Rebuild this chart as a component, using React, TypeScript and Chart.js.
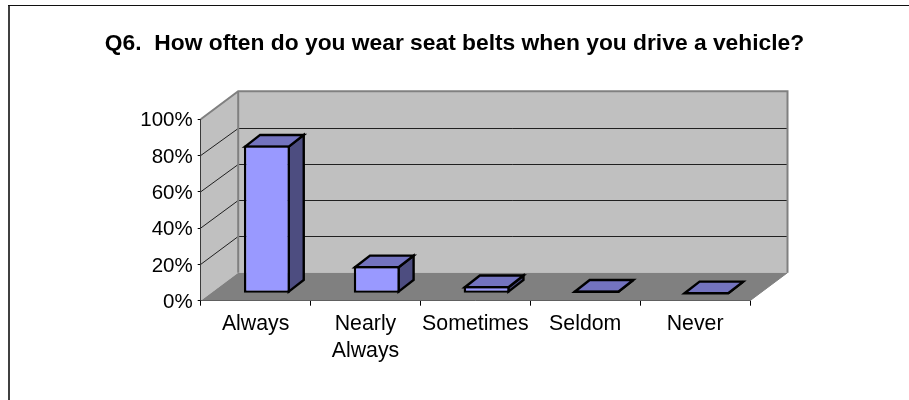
import { useEffect, useRef } from "react";
import { Chart, registerables } from "chart.js";

Chart.register(...registerables);

const titleText = "Q6.  How often do you wear seat belts when you drive a vehicle?";
const categories: (string | string[])[] = ["Always", ["Nearly", "Always"], "Sometimes", "Seldom", "Never"];
const percentages = [81.5, 15, 4, 1.5, 0];
const yTicks = [0, 20, 40, 60, 80, 100];

const FONT = "'Liberation Sans', Arial, sans-serif";
const WALL = "#c0c0c0";
const FLOOR = "#808080";
const DX = 37.5;
const DY = -28;
const BAR_SHIFT_X = 11.3;
const BAR_SHIFT_Y = -7.4;
const BAR_DX = 15;
const BAR_DY = -11.7;
const BAR_LINE = 2.4;

function poly(ctx: CanvasRenderingContext2D, pts: number[][], fill?: string, stroke?: string, lw = 1) {
  ctx.beginPath();
  pts.forEach((p, i) => (i ? ctx.lineTo(p[0], p[1]) : ctx.moveTo(p[0], p[1])));
  ctx.closePath();
  if (fill) {
    ctx.fillStyle = fill;
    ctx.fill();
  }
  if (stroke) {
    ctx.strokeStyle = stroke;
    ctx.lineWidth = lw;
    ctx.lineJoin = "miter";
    ctx.stroke();
  }
}

const frame3d = {
  id: "frame3d",
  beforeDraw(chart: any) {
    const { ctx, width, height } = chart;
    ctx.save();
    ctx.fillStyle = "#ffffff";
    ctx.fillRect(0, 0, width, height);
    ctx.fillStyle = "#404040";
    ctx.fillRect(8, 5, 2, height - 5);
    ctx.fillStyle = "#101010";
    ctx.fillRect(8, 5, width - 8, 1);
    ctx.restore();
    const items = chart.scales.y.getLabelItems(chart.chartArea);
    if (!items.nudged) {
      items.nudged = true;
      items.forEach((item: any) => {
        item.options.translation = [item.options.translation[0], item.options.translation[1] + 1.5];
      });
    }
  },
  beforeDatasetsDraw(chart: any) {
    const { ctx, scales } = chart;
    const x = scales.x;
    const y = scales.y;
    const l = x.left;
    const r = x.right;
    const b = y.getPixelForValue(0);
    const t = y.getPixelForValue(100);
    ctx.save();
    poly(ctx, [[l, b], [l + DX, b + DY], [l + DX, t + DY], [l, t]], WALL);
    poly(ctx, [[l + DX, b + DY], [r + DX, b + DY], [r + DX, t + DY], [l + DX, t + DY]], WALL);
    poly(ctx, [[l, b], [l + DX, b + DY], [r + DX, b + DY], [r, b]], FLOOR);
    ctx.strokeStyle = "#202020";
    ctx.lineWidth = 1;
    yTicks.slice(1, -1).forEach((v) => {
      const py = y.getPixelForValue(v);
      const backY = Math.round(py + DY) + 0.5;
      ctx.beginPath();
      ctx.moveTo(l, py);
      ctx.lineTo(l + DX, backY);
      ctx.lineTo(r + DX, backY);
      ctx.stroke();
    });
    ctx.strokeStyle = FLOOR;
    ctx.lineWidth = 2;
    ctx.beginPath();
    ctx.moveTo(l, t);
    ctx.lineTo(l + DX, t + DY);
    ctx.lineTo(r + DX, t + DY);
    ctx.lineTo(r + DX, b + DY);
    ctx.moveTo(l + DX, t + DY);
    ctx.lineTo(l + DX, b + DY);
    ctx.stroke();
    ctx.lineWidth = 1;
    ctx.beginPath();
    ctx.moveTo(r + DX, b + DY);
    ctx.lineTo(r, b);
    ctx.stroke();
    ctx.restore();
  },
  beforeDatasetDraw(chart: any, args: any) {
    const { ctx } = chart;
    ctx.save();
    ctx.translate(BAR_SHIFT_X, BAR_SHIFT_Y);
    const inset = BAR_LINE / 2;
    chart.getDatasetMeta(args.index).data.forEach((bar: any) => {
      const half = bar.width / 2 - inset;
      const left = bar.x - half;
      const right = bar.x + half;
      const top = Math.min(bar.y + inset, (bar.y + bar.base) / 2);
      const base = Math.max(bar.base - inset, (bar.y + bar.base) / 2);
      const side = [[right, top], [right + BAR_DX, top + BAR_DY], [right + BAR_DX, base + BAR_DY], [right, base]];
      const cap = [[left, top], [left + BAR_DX, top + BAR_DY], [right + BAR_DX, top + BAR_DY], [right, top]];
      poly(ctx, side, "#4d4d80", "#000000", BAR_LINE);
      poly(ctx, cap, "#7373bf", "#000000", BAR_LINE);
    });
  },
  afterDatasetDraw(chart: any) {
    chart.ctx.restore();
  },
};

export default function App() {
  const ref = useRef<HTMLCanvasElement | null>(null);
  useEffect(() => {
    if (!ref.current) return;
    const chart = new Chart(ref.current, {
      type: "bar",
      data: {
        labels: categories as any,
        datasets: [
          {
            data: percentages,
            backgroundColor: "#9999ff",
            borderColor: "#000000",
            borderWidth: BAR_LINE,
            borderSkipped: false,
            barPercentage: 0.419,
            categoryPercentage: 1,
          },
        ],
      },
      options: {
        responsive: false,
        animation: false,
        layout: { padding: 0 },
        plugins: {
          legend: { display: false },
          tooltip: { enabled: false },
          title: {
            display: true,
            text: titleText,
            color: "#000000",
            font: { family: FONT, size: 22.8, weight: "bold", lineHeight: 1.2 },
            padding: { top: 30.3, bottom: 61.6 },
          },
        },
        scales: {
          x: {
            offset: true,
            afterFit(axis: any) {
              axis.height = 99.3;
            },
            grid: { display: true, drawOnChartArea: false, drawTicks: true, tickLength: 5, color: "#000000", offset: true },
            border: { display: true, color: "#000000", width: 1 },
            ticks: {
              color: "#000000",
              font: { family: FONT, size: 21.3, lineHeight: 1.27 },
              maxRotation: 0,
              autoSkip: false,
              padding: 5,
            },
          },
          y: {
            min: 0,
            max: 100,
            afterFit(axis: any) {
              axis.width = 200.7;
            },
            afterBuildTicks(axis: any) {
              axis.ticks = yTicks.map((value) => ({ value }));
            },
            grid: { display: true, drawOnChartArea: false, drawTicks: true, tickLength: 3, color: "#000000" },
            border: { display: true, color: "#000000", width: 1 },
            ticks: { color: "#000000", font: { family: FONT, size: 20.5 }, padding: 5, callback: (v: any) => v + "%" },
          },
          rightGutter: {
            position: "right",
            min: 0,
            max: 100,
            afterFit(axis: any) {
              axis.width = 159;
            },
            grid: { display: false },
            border: { display: false },
            ticks: { display: false },
          },
        },
      },
      plugins: [frame3d],
    } as any);
    return () => chart.destroy();
  }, []);
  return (
    <canvas
      ref={ref}
      width={909}
      height={400}
      style={{ position: "absolute", left: 0, top: 0, display: "block", width: 909, height: 400 }}
    />
  );
}
